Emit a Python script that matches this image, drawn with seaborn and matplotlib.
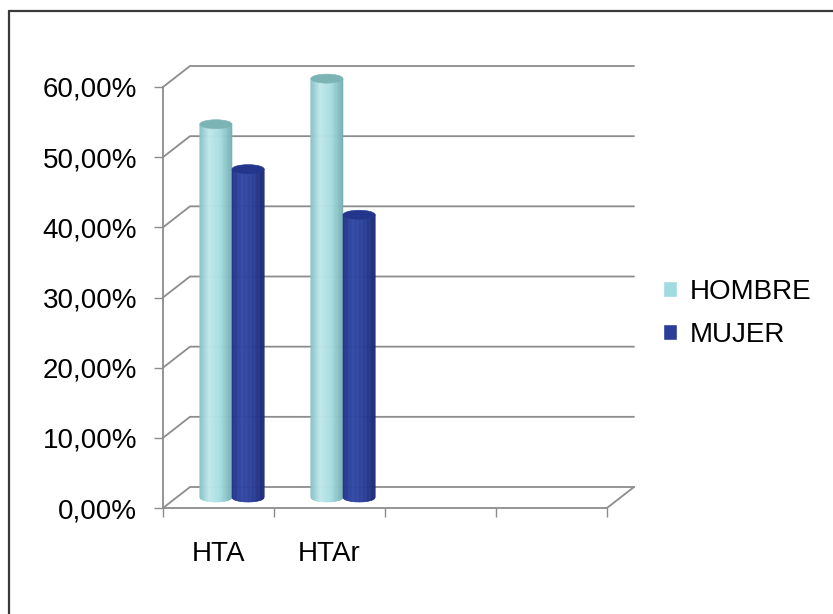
import numpy as np
import pandas as pd
import matplotlib
matplotlib.use("Agg")
import matplotlib.pyplot as plt
import seaborn as sns
from matplotlib.patches import Polygon, Ellipse
from matplotlib.transforms import ScaledTranslation
from matplotlib.lines import Line2D
from matplotlib.colors import to_rgb

# data
categorias = ["HTA", "HTAr"]
series = ["HOMBRE", "MUJER"]
hombre = [53.2, 59.7]
mujer = [46.8, 40.3]
yticks = [0, 10, 20, 30, 40, 50, 60]
n_slots = 4  # the chart keeps two empty category slots

df = pd.DataFrame({
    "cat": categorias * 2,
    "sexo": [series[0]] * len(hombre) + [series[1]] * len(mujer),
    "valor": hombre + mujer,
})

sns.set_style("white")
plt.rcParams["font.family"] = ["Liberation Sans", "DejaVu Sans"]

W, H = 833, 614
fig = plt.figure(figsize=(W / 100, H / 100), dpi=100)
ax = fig.add_axes([163 / W, (H - 508) / H, 444 / W, 421 / H])
ax.patch.set_alpha(0)

palette = {"HOMBRE": "#a0dbdf", "MUJER": "#2a3e98"}
sns.barplot(data=df, x="cat", y="valor", hue="sexo", order=categorias,
            hue_order=series, palette=palette, width=0.58, saturation=1,
            ax=ax, zorder=3)

ax.set_xlim(-0.5, n_slots - 0.5)
ax.set_ylim(0, 60)

# pseudo 3d depth (pixels -> data units)
px_x = 444 / n_slots
px_y = 421 / 60
DX = 27 / px_x
DY = 21 / px_y
gray = "#8c8c8c"

for y in yticks:
    ax.plot([-0.5, -0.5 + DX, n_slots - 0.5 + DX], [y, y + DY, y + DY],
            color=gray, lw=1.3, clip_on=False, zorder=1)
ax.plot([n_slots - 0.5, n_slots - 0.5 + DX], [0, DY], color=gray, lw=1.3,
        clip_on=False, zorder=1)

# cylinders sit half way into the depth
tr = ax.transData + ScaledTranslation(13.5 / 100, 10.5 / 100, fig.dpi_scale_trans)
shades = {
    "HOMBRE": ["#84c1c5", "#c0e9ec", "#a6dde1", "#76b0b4"],
    "MUJER": ["#21328a", "#3249a4", "#2b409a", "#1c2a74"],
}
tops = {"HOMBRE": "#7cb3b5", "MUJER": "#24368c"}
stops = [0, 0.3, 0.65, 1]
eh = 9 / px_y

for cont, name in zip(ax.containers, series):
    rgb = np.array([to_rgb(c) for c in shades[name]])
    for p in cont:
        p.set_visible(False)
        x0, w, h = p.get_x(), p.get_width(), p.get_height()
        xc = x0 + w / 2
        n = 40
        xs = np.linspace(x0, x0 + w, n + 1)
        yb = -eh / 2 * np.sqrt(np.clip(1 - ((xs - xc) / (w / 2)) ** 2, 0, 1))
        for i in range(n):
            t = (i + 0.5) / n
            c = [np.interp(t, stops, rgb[:, k]) for k in range(3)]
            ax.add_patch(Polygon([(xs[i], h), (xs[i + 1], h), (xs[i + 1], yb[i + 1]), (xs[i], yb[i])],
                                 closed=True, fc=c, ec=c, lw=0.4, transform=tr,
                                 clip_on=False, zorder=3))
        ax.add_patch(Ellipse((xc, h), w, eh, fc=tops[name], ec=tops[name], lw=0.4,
                             transform=tr, clip_on=False, zorder=4))

for s in ["top", "right"]:
    ax.spines[s].set_visible(False)
for s in ["left", "bottom"]:
    ax.spines[s].set_color(gray)
    ax.spines[s].set_linewidth(1.3)

ax.set_yticks(yticks, [f"{v:.2f}%".replace(".", ",") for v in yticks])
ax.tick_params(axis="y", left=True, length=6.5, width=1, color=gray, pad=12,
               labelsize=20, labelcolor="black")
ax.set_xticks(np.arange(-0.5, n_slots), [])
ax.set_xticks(range(len(categorias)), categorias, minor=True)
ax.tick_params(axis="x", which="major", bottom=True, length=6.5, width=1, color=gray)
ax.tick_params(axis="x", which="minor", bottom=True, length=0, pad=24,
               labelsize=20, labelcolor="black")
ax.set_xlabel("")
ax.set_ylabel("")

handles, labels = ax.get_legend_handles_labels()
ax.get_legend().remove()
fig.legend(handles, labels, loc="upper left", bbox_to_anchor=(663 / W, 1 - 279 / H),
           frameon=False, fontsize=20, handlelength=0.5, handleheight=0.5,
           handletextpad=0.45, labelspacing=0.62, borderpad=0, borderaxespad=0,
           labelcolor="black")

# chart frame (only top and left edges are in the picture)
fig.add_artist(Line2D([9 / W, 1], [1 - 11 / H] * 2, color="#3a3a3a", lw=1.6))
fig.add_artist(Line2D([9 / W] * 2, [0, 1 - 11 / H], color="#3a3a3a", lw=1.6))

fig.savefig("out.png", dpi=100)
